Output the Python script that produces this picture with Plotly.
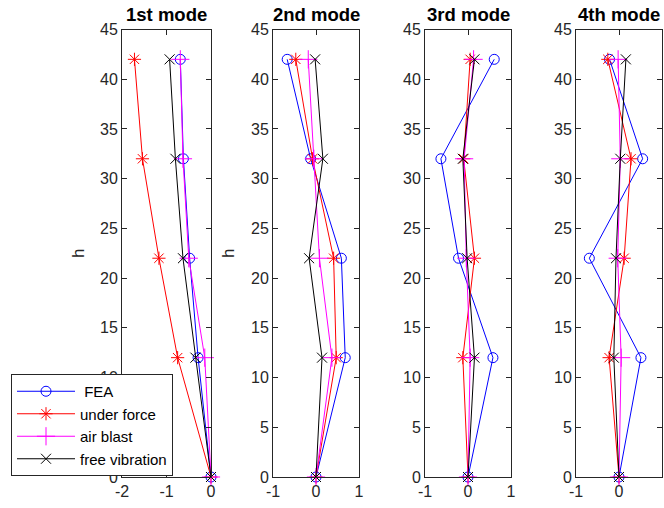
import plotly.graph_objects as go

h = [0, 12, 22, 32, 42]
titles = ["1st mode", "2nd mode", "3rd mode", "4th mode"]
series_names = [" FEA", "under force", "air blast", "free vibration"]

# mode shapes: values at h = 0, 12, 22, 32, 42
fea = [
    [0, -0.29, -0.48, -0.62, -0.69],
    [0, 0.68, 0.59, -0.125, -0.67],
    [0, 0.58, -0.22, -0.63, 0.61],
    [0, 0.51, -0.69, 0.55, -0.22],
]
under_force = [
    [0, -0.75, -1.17, -1.54, -1.72],
    [0, 0.47, 0.41, -0.08, -0.47],
    [0, -0.12, 0.15, -0.10, 0.05],
    [0, -0.23, 0.12, 0.28, -0.26],
]
air_blast = [
    [0, -0.14, -0.50, -0.63, -0.69],
    [0, 0.37, 0.08, -0.05, -0.18],
    [0, 0.05, -0.04, -0.09, 0.13],
    [0, 0.05, -0.03, 0.03, -0.02],
]
free_vibration = [
    [0, -0.35, -0.63, -0.80, -0.93],
    [0, 0.14, -0.16, 0.16, -0.02],
    [0, 0.15, -0.02, -0.12, 0.15],
    [0, -0.12, -0.07, 0.03, 0.16],
]
x_ranges = [[-2, 0], [-1, 1], [-1, 1], [-1, 1]]
x_ticks = [[-2, -1, 0], [-1, 0, 1], [-1, 0, 1], [-1, 0, 1]]
x_ticklabels = [["-2", "-1", "0"], ["-1", "0", "1"], ["-1", "0", "1"], ["-1", "0", "1"]]
y_ticks = [0, 5, 10, 15, 20, 25, 30, 35, 40, 45]

colors = ["#0000FF", "#FF0000", "#FF00FF", "#000000"]
symbols = ["circle-open", "asterisk-open", "cross-thin-open", "x-thin-open"]
sizes = [10, 11, 13, 10]
all_series = [fea, under_force, air_blast, free_vibration]

W, H = 664, 508
doms = [(122, 211), (273, 359), (425, 511), (576, 662)]
top, bottom = 29.5, 477

fig = go.Figure()
for i in range(4):
    xa = "x" if i == 0 else f"x{i+1}"
    ya = "y" if i == 0 else f"y{i+1}"
    for s in range(4):
        fig.add_trace(go.Scatter(
            x=all_series[s][i], y=h, mode="lines+markers",
            name=series_names[s], legendgroup=f"g{s}",
            showlegend=(i == 0),
            line=dict(color=colors[s], width=1),
            marker=dict(symbol=symbols[s], size=sizes[s], color=colors[s],
                        line=dict(color=colors[s], width=1)),
            xaxis=xa, yaxis=ya, cliponaxis=False,
        ))

axcommon = dict(showline=True, linecolor="#262626", linewidth=1, mirror="ticks",
                ticks="inside", ticklen=5, tickcolor="#262626", showgrid=False,
                zeroline=False, automargin=False,
                tickfont=dict(family="Liberation Sans", size=16, color="#262626"))
layout = dict(width=W, height=H, margin=dict(l=0, r=0, t=0, b=0, autoexpand=False),
              plot_bgcolor="white", paper_bgcolor="white", showlegend=True)
for i in range(4):
    sx = "" if i == 0 else str(i + 1)
    layout[f"xaxis{sx}"] = dict(domain=[doms[i][0] / W, doms[i][1] / W], range=x_ranges[i],
                                tickvals=x_ticks[i], ticktext=x_ticklabels[i],
                                anchor=f"y{sx}", **axcommon)
    layout[f"yaxis{sx}"] = dict(domain=[1 - bottom / H, 1 - top / H], range=[0, 45],
                                tickvals=y_ticks, anchor=f"x{sx}", **axcommon)
fig.update_layout(**layout)

ann = []
for i in range(4):
    ann.append(dict(text=f"<b>{titles[i]}</b>", x=(doms[i][0] + doms[i][1]) / 2 / W, y=1 - 15 / H,
                    xref="paper", yref="paper", showarrow=False, xanchor="center", yanchor="middle",
                    font=dict(family="Liberation Sans", size=18.5, color="black")))
for xp in [78, 228]:
    ann.append(dict(text="h", x=xp / W, y=1 - 254 / H, xref="paper", yref="paper",
                    showarrow=False, textangle=-90, xanchor="center", yanchor="middle",
                    font=dict(family="Liberation Sans", size=17, color="#262626")))
fig.update_layout(annotations=ann)

fig.update_layout(legend=dict(x=11 / W, y=1 - 374 / H, xanchor="left", yanchor="top",
                              bgcolor="white", bordercolor="#262626", borderwidth=1,
                              font=dict(family="Liberation Sans", size=15, color="black"),
                              tracegroupgap=0, itemwidth=58))

fig.write_html("out.html")
